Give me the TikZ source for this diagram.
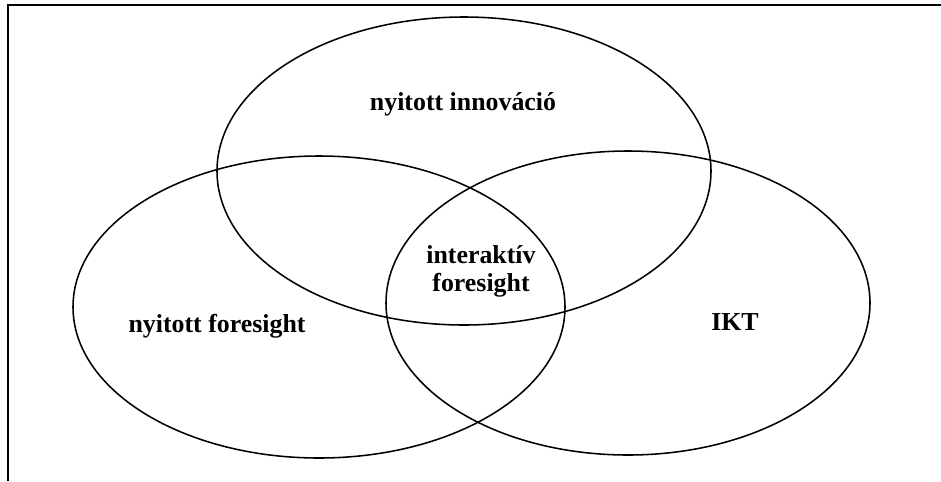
\documentclass[tikz,border=0pt]{standalone}
\usepackage{fontspec}
\setmainfont{Liberation Serif}
\usetikzlibrary{shapes.geometric, positioning, calc}

\begin{document}
\begin{tikzpicture}[
    oval/.style={ellipse, draw, line width=1.1pt, inner sep=0pt},
    venntext/.style={font=\bfseries\fontsize{18.4}{19.9}\selectfont, align=center},
    frame/.style={line width=1.4pt},
]

\useasboundingbox (0,0) rectangle (23.525,-12.025);
\draw[frame] (0.19,-12.025) |- (23.525,-0.125);

\node[oval, minimum width=12.35cm, minimum height=7.7cm] (innovacio) at (11.6,-4.275) {};
\node[oval, minimum width=12.3cm, minimum height=7.55cm] (foresight) at (7.975,-7.675) {};
\node[oval, minimum width=12.1cm, minimum height=7.6cm] (ikt) at (15.7,-7.575) {};

\node[venntext] (innovaciotext) at ($(innovacio.center)+(-0.025,1.675)$) {nyitott innováció};
\node[venntext] (foresighttext) at ($(foresight.center)+(-2.55,-0.475)$) {nyitott foresight};
\node[venntext] (ikttext) at ($(ikt.center)+(2.675,-0.475)$) {IKT};
\node[venntext] (interaktiv) at (12.025,-6.775) {interaktív\\foresight};

\end{tikzpicture}
\end{document}
